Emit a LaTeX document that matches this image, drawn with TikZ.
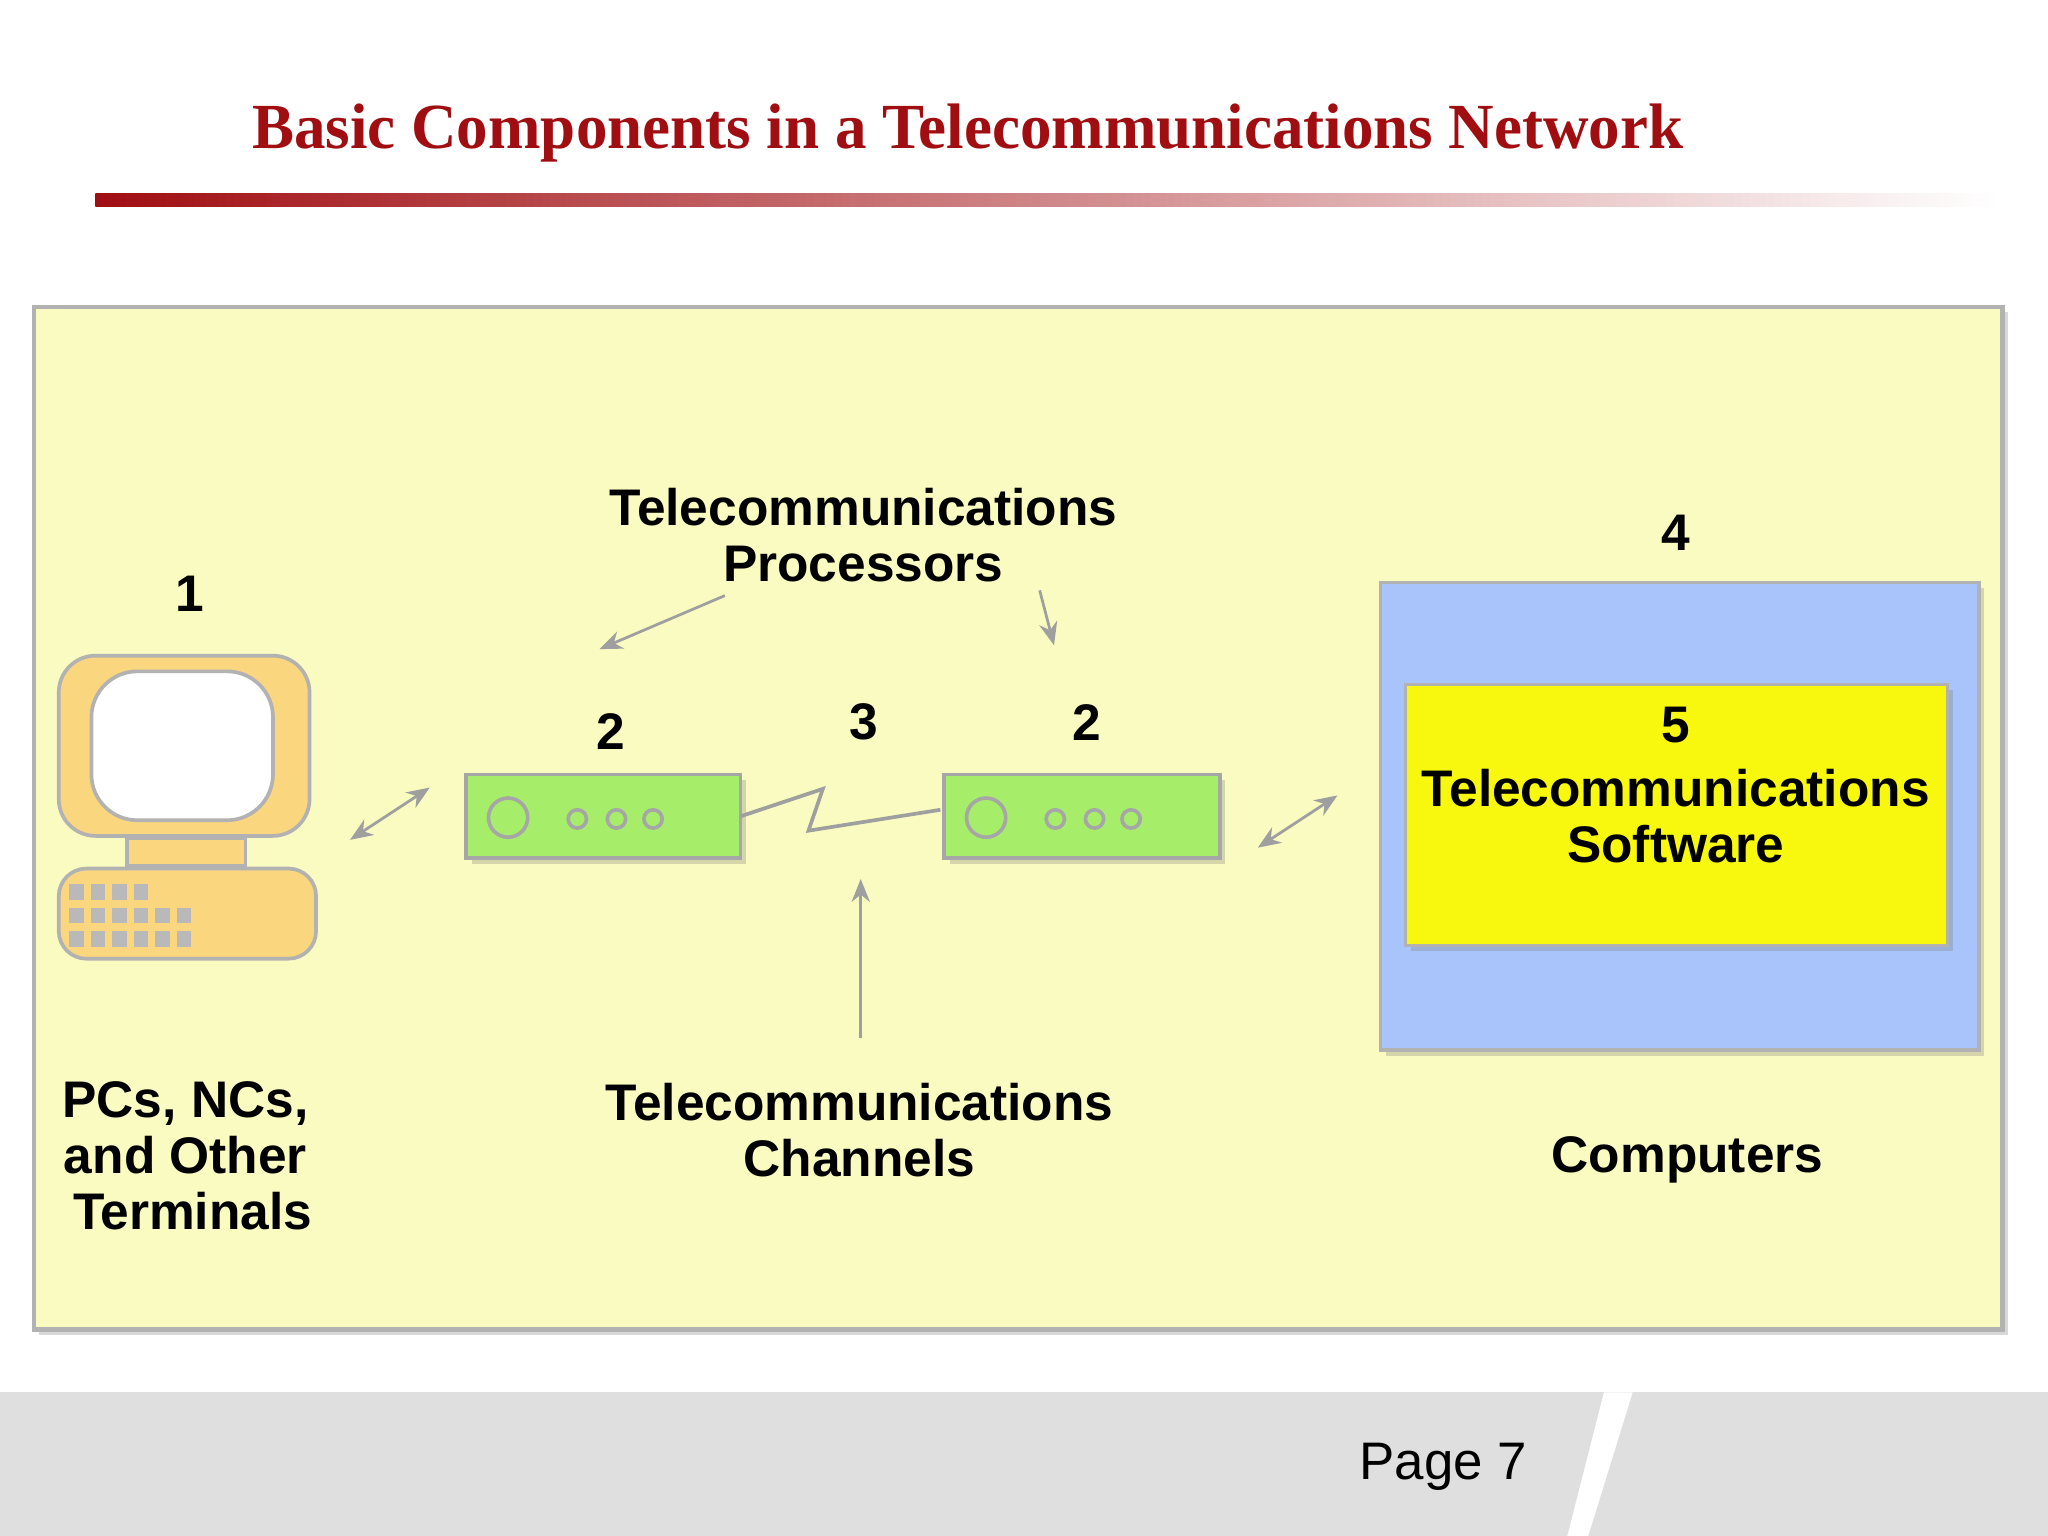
\documentclass[tikz,border=0pt]{standalone}
\usepackage{fontspec}
\setmainfont{Liberation Sans}
\newfontfamily\titlefont{Liberation Serif}
\usetikzlibrary{arrows.meta,shadows}
\definecolor{panel}{HTML}{FAFBC0}
\definecolor{pcol}{HTML}{FAD67E}
\definecolor{mgreen}{HTML}{A6EE6A}
\definecolor{cblue}{HTML}{A8C4FA}
\definecolor{cyel}{HTML}{F8F80E}
\definecolor{dred}{HTML}{A00E12}
\tikzset{
 lbl/.style={font=\fontsize{11.2pt}{12.2pt}\selectfont\bfseries,align=center,text=black},
 conn/.style={draw=gray!75,line width=0.6pt,-{Stealth[length=5pt,width=4pt]}},
 dconn/.style={conn,{Stealth[length=5pt,width=4pt]}-{Stealth[length=5pt,width=4pt]}},
 shd/.style={drop shadow={opacity=0.3,shadow xshift=1.2pt,shadow yshift=-1.2pt}},
 modem/.style={draw=gray!70,fill=mgreen,line width=0.8pt,shd},
 key/.style={fill=gray!55,draw=none},
}
\begin{document}
\begin{tikzpicture}[x=0.01cm,y=-0.01cm]
\useasboundingbox (0,0) rectangle (1568,1176);
\fill[white] (0,0) rectangle (1568,1176);
% bottom band
\fill[gray!25] (0,1066) rectangle (1568,1176);
\fill[white] (1228,1066) -- (1250,1066) -- (1216,1176) -- (1200,1176) -- cycle;
\node[font=\fontsize{11.5pt}{12pt}\selectfont] (page) at (1105,1123) {Page 7};
% title
\node[font=\titlefont\bfseries\fontsize{14pt}{16pt}\selectfont,text=dred] (title) at (741,102) {\scalebox{0.98}[1]{Basic Components in a Telecommunications Network}};
\shade[left color=dred,right color=white] (73,148) rectangle (1530,158);
% panel
\draw[gray!60,fill=panel,line width=1pt,shd] (26,235) rectangle (1533,1018);
% computer
\draw[gray!60,fill=pcol,line width=0.8pt,rounded corners=8] (45,502) rectangle (237,640);
\draw[gray!60,fill=white,line width=0.8pt,rounded corners=10] (70,514) rectangle (209,628);
\draw[gray!60,fill=pcol,line width=0.8pt] (97,642) rectangle (188,663);
\draw[gray!60,fill=pcol,line width=0.8pt,rounded corners=6] (45,665) rectangle (242,734);
\foreach \r/\n in {677/4,695/6,713/6}{
 \foreach \i in {1,...,\n}{
  \fill[key] ({53+(\i-1)*16.5},\r) rectangle ++(11,12);
 }}
\node[lbl] (n1) at (145,455) {1};
% modems
\draw[modem] (357,593) rectangle (567,657);
\draw[gray!70,line width=0.8pt] (389,626) circle (15) (442,627) circle (7) (472,627) circle (7) (500,627) circle (7);
\draw[modem] (723,593) rectangle (934,657);
\draw[gray!70,line width=0.8pt] (755,626) circle (15) (808,627) circle (7) (838,627) circle (7) (866,627) circle (7);
\coordinate (m1) at (567,625);
\coordinate (m2) at (720,620);
\draw[gray!75,line width=0.8pt] (m1) -- (630,604) -- (619,636) -- (m2);
\node[lbl] (n2a) at (468,560) {2};
\node[lbl] (n3) at (661,553) {3};
\node[lbl] (n2b) at (832,553) {2};
\node[lbl] (proc) at (661,410) {Telecommunications\\Processors};
% computers box
\draw[gray!60,fill=cblue,line width=0.8pt,shd] (1057,446) rectangle (1515,804);
\draw[gray!60,fill=cyel,line width=0.8pt,shd] (1076,524) rectangle (1491,724);
\node[lbl] (n4) at (1283,408) {4};
\node[lbl] (n5) at (1283,555) {5};
\node[lbl] (soft) at (1283,625) {Telecommunications\\Software};
% bottom labels
\node[lbl] (pcs) at (142,885) {PCs, NCs,\\and Other\\\ Terminals};
\node[lbl] (chan) at (658,865) {Telecommunications\\Channels};
\node[lbl] (comp) at (1292,888) {Computers};
% arrows
\coordinate (a1) at (268,643); \coordinate (a2) at (329,603);
\draw[dconn] (a1) -- (a2);
\coordinate (b1) at (963,649); \coordinate (b2) at (1024,609);
\draw[dconn] (b1) -- (b2);
\coordinate (p1) at (555,456); \coordinate (p1e) at (459,497);
\draw[conn] (p1) -- (p1e);
\coordinate (p2) at (796,452); \coordinate (p2e) at (807,494);
\draw[conn] (p2) -- (p2e);
\coordinate (c1) at (659,795); \coordinate (c1e) at (659,673);
\draw[conn] (c1) -- (c1e);
\end{tikzpicture}
\end{document}
